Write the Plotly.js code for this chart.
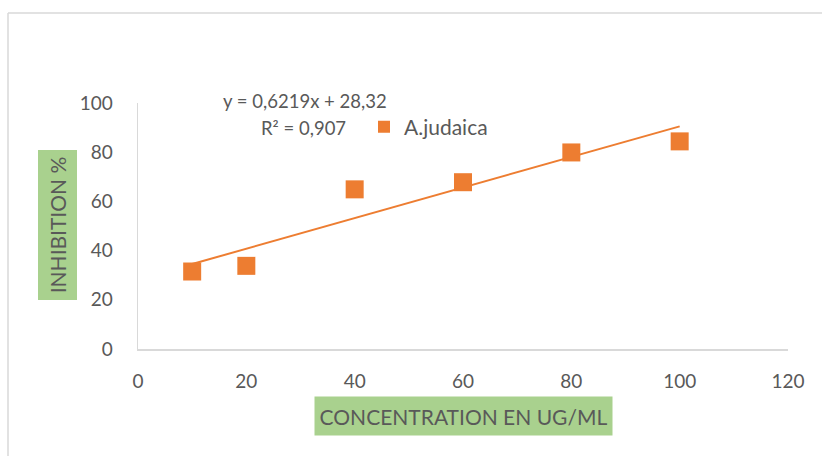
<!DOCTYPE html>
<html>
<head>
<meta charset="utf-8">
<script src="https://cdn.plot.ly/plotly-3.0.1.min.js"></script>
<style>
html,body{margin:0;padding:0;background:#fff;}
#chart{width:822px;height:456px;}
</style>
</head>
<body>
<div id="chart"></div>
<script>
// Data
const concentrations = [10, 20, 40, 60, 80, 100];
const inhibition = [31.5, 33.8, 64.9, 67.8, 79.9, 84.4];
const seriesName = 'A.judaica';
// Linear trendline coefficients as printed on the chart
const slope = 0.6219;
const intercept = 28.32;
const equationText = 'y = 0,6219x + 28,32';
const r2Text = 'R² = 0,907';
const xTitle = 'CONCENTRATION EN UG/ML';
const yTitle = 'INHIBITION %';
const xTicks = [0, 20, 40, 60, 80, 100, 120];
const yTicks = [0, 20, 40, 60, 80, 100];

const trendX = [Math.min(...concentrations), Math.max(...concentrations)];
const trendY = trendX.map(x => slope * x + intercept);

const orange = '#ED7D31';
const green = '#A9D18E';
const textColor = '#595959';
const font = 'Lato, "Open Sans", sans-serif';

const traces = [
  {
    x: trendX, y: trendY, mode: 'lines', type: 'scatter',
    line: {color: orange, width: 2}, showlegend: false, hoverinfo: 'skip'
  },
  {
    x: concentrations, y: inhibition, mode: 'markers', type: 'scatter',
    name: seriesName,
    marker: {symbol: 'square', size: 18, color: orange}
  }
];

const L = 138, R = 34, T = 103, B = 107;
const W = 822 - L - R, H = 456 - T - B;
const px2x = px => (px - L) / W;
const py2y = py => (456 - B - py) / H;

const layout = {
  width: 822, height: 456,
  margin: {l: L, r: R, t: T, b: B, pad: 0},
  paper_bgcolor: '#fff', plot_bgcolor: '#fff',
  font: {family: font, color: textColor, size: 19},
  xaxis: {
    range: [0, 120], tickvals: xTicks, ticktext: xTicks.map(String),
    showgrid: false, zeroline: false, showline: true, linecolor: '#D9D9D9', linewidth: 1.5,
    ticks: '', ticklabelstandoff: 15, tickfont: {size: 19, color: textColor}
  },
  yaxis: {
    range: [0, 100], tickvals: yTicks, ticktext: yTicks.map(String),
    showgrid: false, zeroline: false, showline: true, linecolor: '#D9D9D9', linewidth: 1.5,
    ticks: '', ticklabelstandoff: 20, tickfont: {size: 19, color: textColor}
  },
  showlegend: true,
  legend: {
    x: px2x(364), y: py2y(127), xanchor: 'left', yanchor: 'middle',
    bgcolor: 'rgba(0,0,0,0)', font: {size: 21, color: textColor},
    itemwidth: 30, itemsizing: 'constant'
  },
  annotations: [
    {xref: 'paper', yref: 'paper', x: px2x(304.5), y: py2y(101), text: equationText,
     showarrow: false, font: {size: 18.5, color: textColor}, xanchor: 'center', yanchor: 'middle'},
    {xref: 'paper', yref: 'paper', x: px2x(303), y: py2y(128), text: r2Text,
     showarrow: false, font: {size: 18.5, color: textColor}, xanchor: 'center', yanchor: 'middle'},
    {xref: 'paper', yref: 'paper', x: px2x(463.5), y: py2y(416), text: xTitle,
     showarrow: false, bgcolor: green, width: 297, height: 38, borderpad: 0,
     font: {size: 21, color: textColor}, xanchor: 'center', yanchor: 'middle'},
    {xref: 'paper', yref: 'paper', x: px2x(57), y: py2y(225.5), text: yTitle,
     showarrow: false, bgcolor: green, width: 149, height: 38, borderpad: 0, textangle: -90,
     font: {size: 21, color: textColor}, xanchor: 'center', yanchor: 'middle'}
  ],
  shapes: [
    {type: 'line', xref: 'paper', yref: 'paper', x0: px2x(8), x1: px2x(822), y0: py2y(13), y1: py2y(13),
     line: {color: '#D9D9D9', width: 1.5}},
    {type: 'line', xref: 'paper', yref: 'paper', x0: px2x(8), x1: px2x(8), y0: py2y(13), y1: py2y(456),
     line: {color: '#D9D9D9', width: 1.5}}
  ]
};

Plotly.newPlot('chart', traces, layout, {displayModeBar: false, staticPlot: true});
</script>
</body>
</html>
